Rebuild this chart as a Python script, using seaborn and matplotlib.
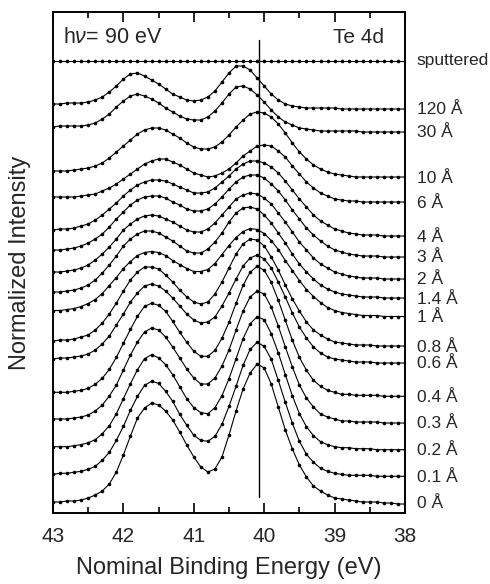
import numpy as np
import pandas as pd
import matplotlib
matplotlib.use("Agg")
import matplotlib.pyplot as plt
import matplotlib.transforms as mtransforms
import seaborn as sns

sns.set_theme(style="ticks")
plt.rcParams["font.family"] = ["Liberation Sans", "DejaVu Sans"]
plt.rcParams["mathtext.fontset"] = "custom"
plt.rcParams["mathtext.it"] = "Liberation Sans:italic"
plt.rcParams["mathtext.rm"] = "Liberation Sans"

# Binding-energy grid (eV), high to low
energy = [43.0, 42.9, 42.8, 42.7, 42.6, 42.5, 42.4, 42.3, 42.2, 42.1,
          42.0, 41.9, 41.8, 41.7, 41.6, 41.5, 41.4, 41.3, 41.2, 41.1,
          41.0, 40.9, 40.8, 40.7, 40.6, 40.5, 40.4, 40.3, 40.2, 40.1,
          40.0, 39.9, 39.8, 39.7, 39.6, 39.5, 39.4, 39.3, 39.2, 39.1,
          39.0, 38.9, 38.8, 38.7, 38.6, 38.5, 38.4, 38.3, 38.2, 38.1, 38.0]

# Te 4d intensity for each coverage (same grid as energy)
te_0 = [2, 2, 3, 3, 4, 6, 9, 13, 20, 32, 49, 68, 86, 96, 101, 99, 93, 84, 72, 59,
        47, 37, 32, 35, 47, 69, 93, 115, 131, 140, 136, 120, 97, 74, 55, 39, 27, 18, 13, 9,
        6, 5, 4, 3, 2, 2, 2, 1, 1, 0, 0]
te_01 = [3, 4, 4, 5, 6, 8, 11, 17, 25, 37, 51, 67, 81, 92, 96, 94, 86, 76, 63, 52,
         42, 37, 36, 41, 53, 71, 91, 112, 128, 135, 131, 118, 97, 75, 54, 36, 23, 15, 9, 6,
         4, 3, 2, 2, 2, 2, 1, 1, 1, 1, 1]
te_02 = [4, 4, 4, 5, 6, 8, 11, 17, 25, 37, 52, 67, 81, 92, 96, 93, 86, 76, 64, 52,
         43, 38, 37, 43, 55, 72, 92, 112, 127, 134, 131, 117, 98, 76, 55, 37, 24, 15, 9, 6,
         4, 3, 3, 2, 2, 2, 1, 1, 1, 1, 1]
te_03 = [5, 5, 5, 6, 7, 9, 13, 19, 28, 39, 54, 69, 82, 92, 96, 94, 87, 77, 66, 55,
         46, 40, 40, 46, 58, 74, 94, 113, 127, 133, 130, 117, 98, 77, 57, 39, 26, 17, 10, 7,
         5, 3, 3, 2, 2, 2, 2, 1, 1, 1, 1]
te_04 = [5, 5, 5, 6, 7, 9, 13, 19, 28, 40, 54, 68, 81, 91, 94, 92, 86, 76, 65, 55,
         46, 41, 41, 47, 59, 75, 94, 112, 125, 131, 127, 115, 97, 77, 57, 40, 27, 17, 11, 7,
         5, 3, 3, 2, 2, 2, 2, 1, 1, 1, 1]
te_06 = [5, 6, 6, 7, 8, 10, 14, 20, 28, 39, 50, 62, 71, 78, 80, 78, 73, 66, 58, 50,
         44, 41, 42, 47, 58, 71, 85, 98, 106, 109, 105, 96, 82, 67, 51, 37, 26, 17, 11, 7,
         5, 4, 3, 2, 2, 2, 1, 1, 1, 1, 1]
te_08 = [6, 7, 7, 8, 10, 12, 17, 24, 33, 44, 56, 67, 75, 80, 80, 78, 72, 65, 57, 50,
         45, 43, 45, 53, 65, 79, 93, 103, 108, 107, 101, 90, 77, 62, 48, 36, 25, 17, 12, 8,
         5, 4, 3, 2, 2, 2, 1, 1, 1, 1, 1]
te_1 = [7, 7, 8, 9, 11, 14, 18, 24, 32, 40, 49, 56, 62, 65, 66, 65, 62, 57, 53, 49,
        46, 46, 48, 54, 63, 72, 80, 86, 89, 88, 84, 77, 68, 57, 47, 37, 28, 21, 15, 10,
        7, 5, 4, 3, 2, 2, 2, 1, 1, 1, 1]
te_14 = [7, 7, 8, 9, 11, 14, 19, 26, 34, 43, 53, 60, 65, 68, 68, 66, 62, 58, 53, 48,
         46, 46, 50, 57, 66, 77, 86, 91, 92, 90, 84, 76, 66, 56, 45, 35, 27, 20, 14, 10,
         7, 5, 4, 3, 2, 2, 2, 1, 1, 1, 1]
te_2 = [8, 8, 9, 10, 12, 15, 20, 26, 33, 41, 50, 56, 61, 64, 65, 64, 61, 58, 54, 50,
        48, 48, 51, 57, 65, 73, 81, 85, 87, 86, 82, 76, 67, 58, 48, 38, 30, 22, 16, 12,
        8, 6, 4, 3, 2, 2, 2, 1, 1, 1, 1]
te_3 = [8, 8, 9, 10, 12, 15, 19, 24, 31, 39, 46, 53, 58, 61, 62, 62, 60, 56, 53, 49,
        47, 47, 49, 54, 61, 69, 76, 81, 83, 83, 80, 74, 67, 58, 48, 39, 30, 23, 17, 12,
        8, 6, 4, 3, 2, 2, 2, 1, 1, 1, 1]
te_4 = [7, 8, 8, 9, 11, 13, 17, 22, 28, 34, 41, 47, 52, 55, 57, 57, 56, 53, 50, 47,
        44, 44, 45, 49, 55, 61, 68, 73, 76, 76, 74, 70, 64, 56, 47, 38, 30, 22, 16, 12,
        8, 6, 4, 3, 2, 2, 2, 1, 1, 1, 1]
te_6 = [6, 6, 6, 6, 7, 8, 9, 12, 15, 19, 24, 29, 34, 39, 42, 44, 44, 41, 38, 34,
        30, 28, 26, 27, 30, 34, 40, 47, 52, 57, 58, 57, 52, 46, 37, 29, 21, 15, 10, 7,
        4, 3, 2, 2, 1, 1, 1, 1, 1, 1, 1]
te_10 = [7, 7, 7, 8, 9, 10, 12, 15, 20, 26, 32, 38, 44, 48, 50, 50, 48, 44, 40, 35,
         31, 29, 29, 31, 36, 43, 51, 58, 64, 66, 65, 61, 54, 45, 35, 26, 19, 13, 9, 6,
         4, 3, 2, 1, 1, 1, 1, 1, 1, 1, 1]
te_30 = [5, 6, 6, 6, 6, 7, 9, 13, 18, 25, 31, 36, 38, 36, 33, 29, 24, 20, 16, 13,
         12, 12, 15, 21, 29, 38, 45, 46, 43, 37, 30, 22, 15, 10, 7, 4, 3, 2, 1, 1,
         1, 1, 1, 1, 0, 0, 0, 0, 0, 0, 0]
te_120 = [5, 5, 6, 6, 6, 7, 9, 12, 17, 23, 30, 35, 36, 33, 29, 25, 20, 15, 12, 9,
          8, 9, 12, 18, 27, 36, 43, 43, 39, 31, 23, 15, 9, 5, 3, 2, 1, 1, 1, 1,
          1, 0, 0, 0, 0, 0, 0, 0, 0, 0, 0]
te_sputtered = [0, 0, 0, 0, 0, 0, 0, 0, 0, 0, 0, 0, 0, 0, 0, 0, 0, 0, 0, 0,
                0, 0, 0, 0, 0, 0, 0, 0, 0, 0, 0, 0, 0, 0, 0, 0, 0, 0, 0, 0,
                0, 0, 0, 0, 0, 0, 0, 0, 0, 0, 0]

coverage = ["0 Å", "0.1 Å", "0.2 Å", "0.3 Å", "0.4 Å", "0.6 Å", "0.8 Å", "1 Å",
            "1.4 Å", "2 Å", "3 Å", "4 Å", "6 Å", "10 Å", "30 Å", "120 Å", "sputtered"]
spectra = [te_0, te_01, te_02, te_03, te_04, te_06, te_08, te_1, te_14, te_2,
           te_3, te_4, te_6, te_10, te_30, te_120, te_sputtered]
# vertical stacking of the spectra
stack_offset = [9, 35.7, 62.3, 89, 115.7, 149, 166, 195.5, 214, 233, 255, 276,
                310, 335, 381, 404, 452]
bulk_peak = 40.07
xticks = [43, 42, 41, 40, 39, 38]

rows = []
for lab, off, vals in zip(coverage, stack_offset, spectra):
    for e, v in zip(energy, vals):
        rows.append({"energy": e, "intensity": v + off, "sample": lab})
df = pd.DataFrame(rows)

fig = plt.figure(figsize=(4.9, 5.84), dpi=100)
ax = fig.add_axes([53 / 490, 71 / 584, 352 / 490, 501 / 584])
sns.lineplot(data=df, x="energy", y="intensity", units="sample", estimator=None,
             sort=False, color="black", lw=0.8, marker="o", markersize=2.6,
             markeredgewidth=0, ax=ax)
ax.axvline(bulk_peak, ymin=0.032, ymax=0.944, color="black", lw=1.0)

ax.set_xlim(43, 38)
ax.set_ylim(0, 501)
ax.set_yticks([])
ax.set_xticks(xticks)
ax.set_xticklabels([str(t) for t in xticks])
ax.set_xticks([42.5, 41.5, 40.5, 39.5, 38.5], minor=True)
ax.tick_params(axis="x", which="both", direction="in", top=True, bottom=True,
               width=1.2, labelsize=15, pad=10, color="black")
ax.tick_params(axis="x", which="major", length=7)
ax.tick_params(axis="x", which="minor", length=4)
for s in ax.spines.values():
    s.set_linewidth(1.4)
    s.set_color("black")

ax.set_xlabel("Nominal Binding Energy (eV)", fontsize=17, labelpad=8)
ax.set_ylabel("Normalized Intensity", fontsize=17, labelpad=16)

trans = mtransforms.blended_transform_factory(ax.transAxes, ax.transData)
for lab, off in zip(coverage, stack_offset):
    ax.text(1.034, off, lab, transform=trans, fontsize=12.5, va="center", ha="left")
ax.text(0.028, 0.95, "h$\\nu$= 90 eV", transform=ax.transAxes, fontsize=15.5,
        va="center", ha="left")
ax.text(0.94, 0.95, "Te 4d", transform=ax.transAxes, fontsize=15,
        va="center", ha="right")

fig.savefig("out.png", dpi=100)
